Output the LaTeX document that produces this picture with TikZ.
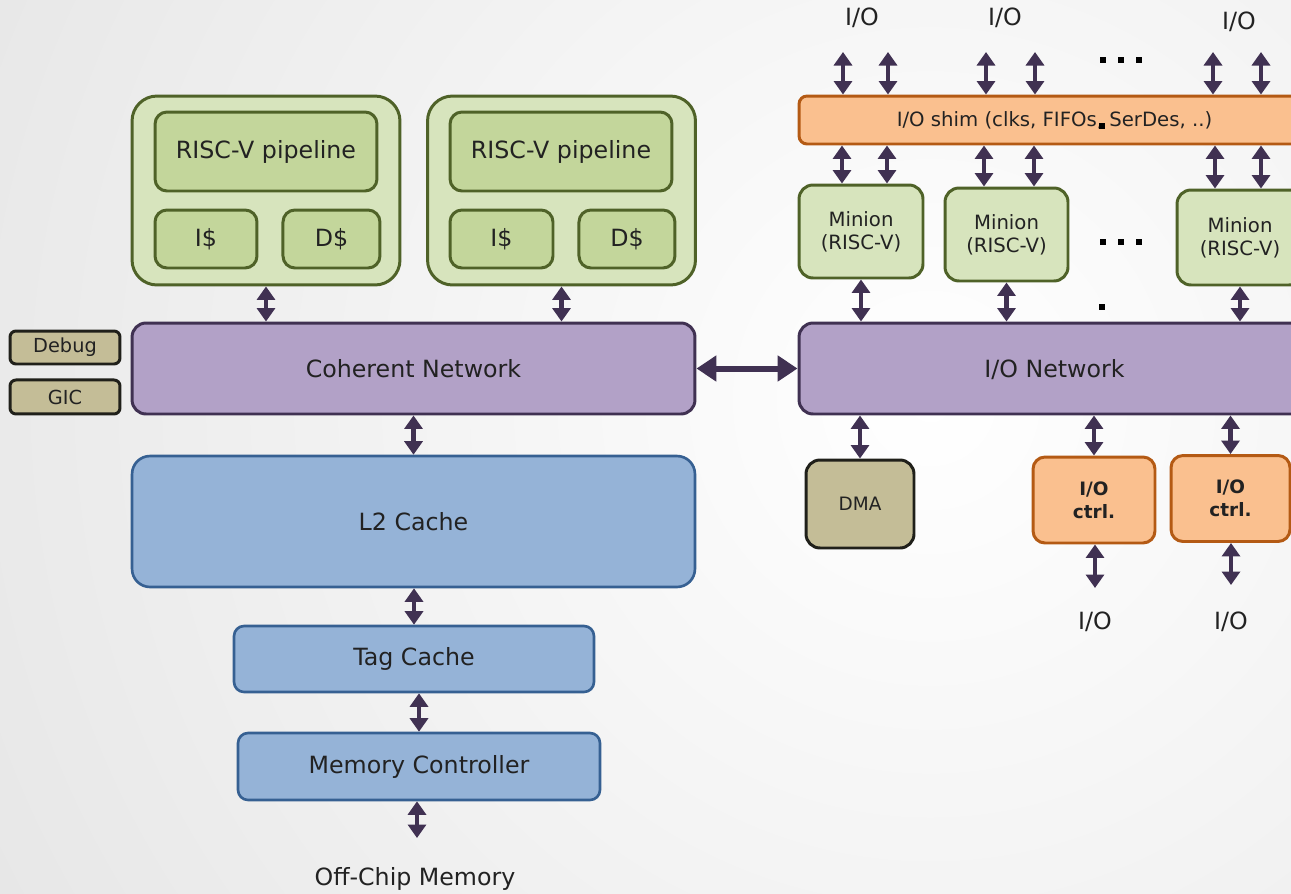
\documentclass[tikz,border=0pt]{standalone}
\usepackage{fontspec}
\setmainfont{DejaVu Sans}
\usepackage{tikz}
\usetikzlibrary{arrows.meta,positioning,calc}
\definecolor{rvtile}{RGB}{215,228,189}
\definecolor{rvcore}{RGB}{195,214,155}
\definecolor{rvolive}{RGB}{79,98,40}
\definecolor{rvlilac}{RGB}{178,161,199}
\definecolor{rvplum}{RGB}{64,49,82}
\definecolor{rvsky}{RGB}{149,179,215}
\definecolor{rvsteel}{RGB}{54,96,146}
\definecolor{rvpeach}{RGB}{250,192,143}
\definecolor{rvrust}{RGB}{180,90,20}
\definecolor{rvkhaki}{RGB}{196,189,151}
\definecolor{rvdark}{RGB}{32,32,26}
\definecolor{rvink}{RGB}{34,34,34}
\definecolor{rvbg}{RGB}{214,214,214}

\begin{document}
\begin{tikzpicture}[x=0.02cm, y=-0.02cm, text=rvink, font=\fontsize{13.5}{16}\selectfont,
    tile/.style={draw=rvolive, fill=rvtile, line width=1.7pt, rounded corners=0.5cm, minimum width=5.36cm, minimum height=3.78cm},
    core/.style={draw=rvolive, fill=rvcore, line width=1.7pt, rounded corners=0.24cm, minimum height=1.16cm},
    net/.style={draw=rvplum, fill=rvlilac, line width=1.7pt, rounded corners=0.28cm, minimum height=1.82cm, text depth=-0.12cm},
    memblk/.style={draw=rvsteel, fill=rvsky, line width=1.5pt, rounded corners=0.2cm},
    misc/.style={draw=rvdark, fill=rvkhaki, line width=1.7pt, inner sep=1pt, font=\fontsize{11}{13}\selectfont},
    minion/.style={draw=rvolive, fill=rvtile, line width=1.7pt, rounded corners=0.28cm, minimum width=2.48cm, minimum height=1.86cm, align=center, font=\fontsize{11.2}{13}\selectfont},
    ioctrl/.style={draw=rvrust, fill=rvpeach, line width=1.7pt, rounded corners=0.24cm, minimum height=1.72cm, align=center, font=\fontsize{10.5}{13}\selectfont\bfseries},
    bi/.style={{Triangle[width=0.36cm,length=0.27cm]}-{Triangle[width=0.36cm,length=0.27cm]}, line width=0.09cm, draw=rvplum},
    bibig/.style={{Triangle[width=0.5cm,length=0.4cm]}-{Triangle[width=0.5cm,length=0.4cm]}, line width=0.12cm, draw=rvplum}]
    % Background
    \useasboundingbox (0,0) rectangle (1291,893);
    \clip (0,0) rectangle (1291,893);
    \shade[inner color=white, outer color=rvbg] (930,400) circle (1800);

    % Core tiles
    \node [tile] (tileA) at (266,190.5) {};
    \node [tile] (tileB) at (561.5,190.5) {};
    \node [core, minimum width=4.44cm, minimum height=1.58cm] (pipeA) at (266,151.5) {RISC-V pipeline};
    \node [core, minimum width=4.44cm, minimum height=1.58cm] (pipeB) at (561,151.5) {RISC-V pipeline};
    \node [core, minimum width=2.04cm] (icA) at (206,239) {I\$};
    \node [core, minimum width=1.94cm, right=0.46cm of icA] (dcA) {D\$};
    \node [core, minimum width=2.06cm] (icB) at (501.5,239) {I\$};
    \node [core, minimum width=1.92cm, right=0.46cm of icB] (dcB) {D\$};

    % Coherent side
    \node [net, minimum width=11.26cm] (coh) at (413.5,368.5) {Coherent Network};
    \node [misc, minimum width=2.2cm, minimum height=0.66cm, rounded corners=0.12cm] (dbg) at (65,347.5) {Debug};
    \node [misc, minimum width=2.2cm, minimum height=0.68cm, rounded corners=0.12cm, below=0.26cm of dbg] (gic) {GIC};
    \node [memblk, minimum width=11.26cm, minimum height=2.62cm, rounded corners=0.36cm] (l2) at (413.5,521.5) {L2 Cache};
    \node [memblk, minimum width=7.2cm, minimum height=1.32cm] (tag) at (414,659) {Tag Cache};
    \node [memblk, minimum width=7.24cm, minimum height=1.34cm] (mc) at (419,766.5) {Memory Controller};
    \node (offchip) at (415,879) {Off-Chip Memory};
    \coordinate (memout) at (417,838);

    % I/O side
    \node [draw=rvrust, fill=rvpeach, line width=1.7pt, rounded corners=0.16cm, minimum width=10.22cm, minimum height=0.96cm, font=\fontsize{11.2}{13}\selectfont] (shim) at (1054.5,120) {I/O shim (clks, FIFOs, SerDes, ..)};
    \node [minion] (minA) at (861,231.5) {Minion\\(RISC-V)};
    \node [minion, minimum width=2.46cm] (minB) at (1006.5,234.5) {Minion\\(RISC-V)};
    \node [minion, minimum width=2.52cm, minimum height=1.9cm] (minC) at (1240,237.5) {Minion\\(RISC-V)};
    \node [net, minimum width=10.22cm] (ionet) at (1054.5,368.5) {I/O Network};
    \node [misc, minimum width=2.16cm, minimum height=1.76cm, rounded corners=0.28cm, font=\fontsize{10.5}{12}\selectfont] (dma) at (860,504) {DMA};
    \node [ioctrl, minimum width=2.44cm] (ctrlA) at (1094,500) {I/O\\ctrl.};
    \node [ioctrl, minimum width=2.38cm] (ctrlB) at (1230.5,498.5) {I/O\\ctrl.};
    \node (ioT1) at (862,18) {I/O};
    \node (ioT2) at (1005,18) {I/O};
    \node (ioT3) at (1239,22) {I/O};
    \node (ioB1) at (1095,622) {I/O};
    \node (ioB2) at (1231,622) {I/O};
    \coordinate (pinA) at (1095,588);
    \coordinate (pinB) at (1231,585);

    % Ellipsis dots
    \foreach \x in {1103,1121,1139} {
        \fill (\x-3,57) rectangle (\x+3,63);
        \fill (\x-3,239) rectangle (\x+3,245);
    }
    \fill (1099,123) rectangle (1105,129);
    \fill (1099,304) rectangle (1105,310);

    % Left edges
    \draw[bi] (tileA) -- (tileA |- coh.north);
    \draw[bi] (tileB) -- (tileB |- coh.north);
    \draw[bi] (coh) -- (l2);
    \draw[bi] (l2.south -| tag) -- (tag);
    \draw[bi] (mc |- tag.south) -- (mc);
    \draw[bi] (mc.south -| memout) -- (memout);
    \draw[bibig] (coh) -- (ionet);

    % Right edges
    \foreach \x in {843,888,986,1035,1213,1261} {
        \coordinate (pin) at (\x,52);
        \draw[bi] (pin) -- (pin |- shim.north);
    }
    \foreach \x/\m in {842/minA,887/minA,984/minB,1034/minB,1215/minC,1261/minC} {
        \coordinate (lane) at (\x,0);
        \draw[bi] (lane |- shim.south) -- (lane |- \m.north);
    }
    \foreach \m in {minA,minB,minC}
        \draw[bi] (\m) -- (\m |- ionet.north);
    \foreach \m in {dma,ctrlA,ctrlB}
        \draw[bi] (\m) -- (\m |- ionet.south);
    \draw[bi] (ctrlA.south -| pinA) -- (pinA);
    \draw[bi] (ctrlB.south -| pinB) -- (pinB);
\end{tikzpicture}
\end{document}
